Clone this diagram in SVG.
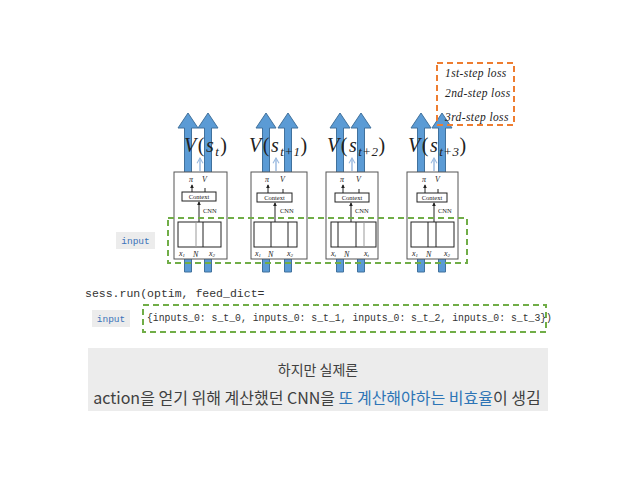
<svg xmlns="http://www.w3.org/2000/svg" width="638" height="479" viewBox="0 0 638 479">
<defs>
<style>
.big{fill:#5b9bd5;stroke:#41719c;stroke-width:1}
.nbox{fill:#fff;stroke:#555;stroke-width:1}
.ln{stroke:#222;stroke-width:1;fill:none}
.gl{stroke:#999;stroke-width:1;fill:none}
.lb{stroke:#9cbbe0;stroke-width:1.5;fill:none}
.tiny{font-family:"Liberation Serif",serif;font-size:6.5px;fill:#222}
.tinyi{font-family:"Liberation Serif",serif;font-size:8px;font-style:italic;fill:#222}
.val{font-family:"Liberation Serif",serif;font-size:20px;fill:#222;letter-spacing:1.5px}
.it{font-style:italic}
.loss{font-family:"Liberation Serif",serif;font-style:italic;font-size:11.5px;fill:#222;letter-spacing:0.4px}
.gdash{fill:none;stroke:#70ad47;stroke-width:2;stroke-dasharray:6 4}
.odash{fill:none;stroke:#ed7d31;stroke-width:2;stroke-dasharray:6 4}
.tag{fill:#ececec}
.tagt{font-family:"Liberation Mono",monospace;font-size:9.5px;fill:#3b73b9}
.code{font-family:"Liberation Mono",monospace;fill:#333}
.kr{font-family:"Noto Sans CJK KR","Noto Sans",sans-serif;fill:#404040}
</style>
<marker id="ah" viewBox="0 0 6 6" refX="5" refY="3" markerWidth="4" markerHeight="4" orient="auto"><path d="M0,0 L6,3 L0,6 Z" fill="#222"/></marker>
<marker id="lah" viewBox="0 0 10 10" refX="8" refY="5" markerWidth="5" markerHeight="5" orient="auto"><path d="M1,1 L8,5 L1,9" fill="none" stroke="#9cbbe0" stroke-width="1.5"/></marker>
</defs>
<rect width="638" height="479" fill="#fff"/>

<g id="connectors">
<path class="big" d="M184.5,272 V128 H178 L188,113 L198,128 H191.5 V272 Z"/>
<path class="big" d="M204.5,272 V128 H198 L208,113 L218,128 H211.5 V272 Z"/>
<path class="big" d="M262.5,272 V128 H256 L266,113 L276,128 H269.5 V272 Z"/>
<path class="big" d="M284.5,272 V128 H278 L288,113 L298,128 H291.5 V272 Z"/>
<path class="big" d="M336.5,272 V128 H330 L340,113 L350,128 H343.5 V272 Z"/>
<path class="big" d="M357.5,272 V128 H351 L361,113 L371,128 H364.5 V272 Z"/>
<path class="big" d="M417.5,272 V128 H411 L421,113 L431,128 H424.5 V272 Z"/>
<path class="big" d="M438.5,272 V128 H432 L442,113 L452,128 H445.5 V272 Z"/>
<line class="lb" x1="200" y1="171" x2="200" y2="158" marker-end="url(#lah)"/>
<line class="lb" x1="276" y1="171" x2="276" y2="158" marker-end="url(#lah)"/>
<line class="lb" x1="352" y1="171" x2="352" y2="158" marker-end="url(#lah)"/>
<line class="lb" x1="434" y1="171" x2="434" y2="158" marker-end="url(#lah)"/>
</g>

<g id="node-t">
<rect class="nbox" x="174" y="172" width="53" height="87"/>
<text class="tinyi" x="189" y="182">π</text><text class="tinyi" x="202" y="182">V</text>
<line class="ln" x1="192" y1="192" x2="192" y2="185" marker-end="url(#ah)"/>
<line class="ln" x1="205" y1="192" x2="205" y2="188"/>
<rect class="ln" x="182" y="192" width="34" height="9"/>
<text class="tiny" x="199" y="199" text-anchor="middle">Context</text>
<line class="ln" x1="199" y1="222" x2="199" y2="202" marker-end="url(#ah)"/>
<text class="tiny" x="203" y="213">CNN</text>
<rect class="ln" x="178" y="222" width="43" height="25"/>
<line class="gl" x1="196" y1="222" x2="196" y2="247"/>
<line class="ln" x1="203" y1="222" x2="203" y2="247"/>
<text class="tinyi" x="179" y="256">x<tspan font-size="5" dy="1">1</tspan></text>
<text class="tinyi" x="193" y="257">N</text>
<text class="tinyi" x="209" y="256">x<tspan font-size="5" dy="1">2</tspan></text>
<text class="val" x="184" y="152"><tspan class="it">V</tspan>(<tspan class="it">s</tspan><tspan class="it" font-size="13" dy="4">t</tspan><tspan dy="-4">)</tspan></text>
</g>

<g id="node-t1">
<rect class="nbox" x="251" y="172" width="56" height="87"/>
<text class="tinyi" x="265" y="182">π</text><text class="tinyi" x="280" y="182">V</text>
<line class="ln" x1="268" y1="193" x2="268" y2="185" marker-end="url(#ah)"/>
<line class="ln" x1="283" y1="193" x2="283" y2="189"/>
<rect class="ln" x="257" y="193" width="35" height="9"/>
<text class="tiny" x="274.5" y="200" text-anchor="middle">Context</text>
<line class="ln" x1="275" y1="222" x2="275" y2="203" marker-end="url(#ah)"/>
<text class="tiny" x="280" y="213">CNN</text>
<rect class="ln" x="254" y="222" width="43" height="25"/>
<line class="ln" x1="271" y1="222" x2="271" y2="247"/>
<line class="ln" x1="288" y1="222" x2="288" y2="247"/>
<text class="tinyi" x="255" y="256">x<tspan font-size="5" dy="1">1</tspan></text>
<text class="tinyi" x="268" y="257">N</text>
<text class="tinyi" x="287" y="256">x<tspan font-size="5" dy="1">2</tspan></text>
<text class="val" x="249" y="152"><tspan class="it">V</tspan>(<tspan class="it">s</tspan><tspan class="it" font-size="13" dy="4" letter-spacing="0.5">t+1</tspan><tspan dy="-4">)</tspan></text>
</g>

<g id="node-t2">
<rect class="nbox" x="326" y="172" width="52" height="87"/>
<text class="tinyi" x="340" y="182">π</text><text class="tinyi" x="356" y="182">V</text>
<line class="ln" x1="343" y1="193" x2="343" y2="185" marker-end="url(#ah)"/>
<line class="ln" x1="359" y1="193" x2="359" y2="189"/>
<rect class="ln" x="335" y="193" width="34" height="9"/>
<text class="tiny" x="352" y="200" text-anchor="middle">Context</text>
<line class="ln" x1="351" y1="222" x2="351" y2="203" marker-end="url(#ah)"/>
<text class="tiny" x="355" y="213">CNN</text>
<rect class="ln" x="331" y="222" width="45" height="25"/>
<line class="ln" x1="338" y1="222" x2="338" y2="247"/>
<line class="ln" x1="356" y1="222" x2="356" y2="247"/>
<line class="gl" x1="364" y1="222" x2="364" y2="247"/>
<text class="tinyi" x="331" y="256">x<tspan font-size="5" dy="1">t</tspan></text>
<text class="tinyi" x="344" y="257">N</text>
<text class="tinyi" x="364" y="256">x<tspan font-size="5" dy="1">t</tspan></text>
<text class="val" x="327" y="152"><tspan class="it">V</tspan>(<tspan class="it">s</tspan><tspan class="it" font-size="13" dy="4" letter-spacing="0.5">t+2</tspan><tspan dy="-4">)</tspan></text>
</g>

<g id="node-t3">
<rect class="nbox" x="407" y="172" width="51" height="87"/>
<text class="tinyi" x="422" y="182">π</text><text class="tinyi" x="435" y="182">V</text>
<line class="ln" x1="425" y1="193" x2="425" y2="185" marker-end="url(#ah)"/>
<line class="ln" x1="438" y1="193" x2="438" y2="189"/>
<rect class="ln" x="417" y="193" width="30" height="9"/>
<text class="tiny" x="432" y="200" text-anchor="middle">Context</text>
<line class="ln" x1="434" y1="222" x2="434" y2="203" marker-end="url(#ah)"/>
<text class="tiny" x="438" y="213">CNN</text>
<rect class="ln" x="411" y="222" width="43" height="25"/>
<line class="ln" x1="428" y1="222" x2="428" y2="247"/>
<line class="ln" x1="436" y1="222" x2="436" y2="247"/>
<text class="tinyi" x="412" y="256">x<tspan font-size="5" dy="1">1</tspan></text>
<text class="tinyi" x="426" y="257">N</text>
<text class="tinyi" x="444" y="256">x<tspan font-size="5" dy="1">2</tspan></text>
<text class="val" x="408" y="152"><tspan class="it">V</tspan>(<tspan class="it">s</tspan><tspan class="it" font-size="13" dy="4" letter-spacing="0.5">t+3</tspan><tspan dy="-4">)</tspan></text>
</g>

<g id="input-group">
<rect class="gdash" x="168" y="218" width="299" height="45"/>
<rect class="tag" x="116" y="232" width="39" height="17"/>
<text class="tagt" x="135.5" y="244" text-anchor="middle">input</text>
</g>

<g id="loss-box">
<rect class="odash" x="437" y="63" width="77" height="62"/>
<text class="loss" x="445" y="77">1st-step loss</text>
<text class="loss" x="445" y="97">2nd-step loss</text>
<text class="loss" x="445" y="121">3rd-step loss</text>
</g>

<g id="code">
<text class="code" x="85" y="297" font-size="11.5">sess.run(optim, feed_dict=</text>
<rect class="tag" x="92" y="310" width="38" height="17"/>
<text class="tagt" x="111" y="322" text-anchor="middle">input</text>
<rect class="gdash" x="143" y="305" width="403" height="27"/>
<text class="code" x="147" y="321" font-size="10.3" textLength="405" lengthAdjust="spacingAndGlyphs">{inputs_0: s_t_0, inputs_0: s_t_1, inputs_0: s_t_2, inputs_0: s_t_3})</text>
</g>

<g id="note">
<rect x="88" y="348" width="460" height="63" fill="#ececec"/>
<text class="kr" x="318" y="375" font-size="14" text-anchor="middle">하지만 실제론</text>
<text class="kr" x="317" y="404" font-size="16" text-anchor="middle">action을 얻기 위해 계산했던 CNN을 <tspan fill="#2e75b6">또 계산해야하는 비효율</tspan>이 생김</text>
</g>
</svg>
